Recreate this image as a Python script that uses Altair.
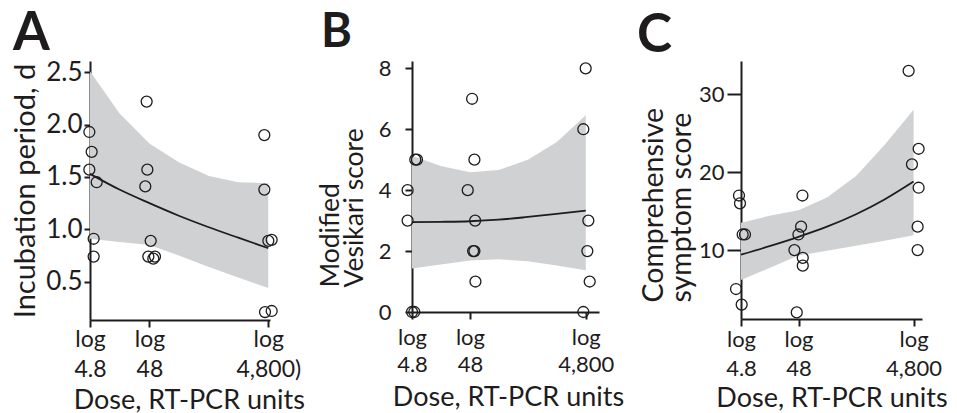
import altair as alt
import pandas as pd

FONT = "Lato"
INK = "#1e1c1d"
BAND = "#d0d1d3"

# ---- shared ----
curve_dose = [4.8, 15, 48, 150, 480, 1500, 4800]
x_ticks = [4.8, 48, 4800]
x_title = "Dose, RT-PCR units"

# ---- Panel A : incubation period ----
a_dose = [4.68, 5.12, 4.68, 6.22, 5.53, 5.53,
          43.1, 44.3, 40.9, 50.4, 46.0, 55.8, 59.5,
          4118, 4118, 4808, 5470, 4225, 5470]
a_val = [1.93, 1.74, 1.57, 1.45, 0.91, 0.74,
         2.22, 1.57, 1.41, 0.89, 0.74, 0.72, 0.74,
         1.90, 1.38, 0.89, 0.90, 0.21, 0.22]
a_fit = [1.53, 1.38, 1.25, 1.13, 1.02, 0.92, 0.82]
a_lo = [0.91, 0.88, 0.85, 0.75, 0.64, 0.54, 0.44]
a_hi = [2.51, 2.11, 1.82, 1.64, 1.51, 1.45, 1.44]
a_yticks = [0.5, 1.0, 1.5, 2.0, 2.5]
a_xlabels = ["4.8", "48", "4,800)"]

# ---- Panel B : modified Vesikari score ----
b_dose = [5.47, 5.85, 4.03, 4.03, 4.8, 5.26,
          52.3, 57.4, 44.0, 59.0, 54.5, 57.4, 59.8,
          4782, 4357, 5318, 5110, 5608, 4357]
b_val = [5, 5, 4, 3, 0, 0,
         7, 5, 4, 3, 2, 2, 1,
         8, 6, 3, 2, 1, 0]
b_fit = [2.95, 2.96, 2.98, 3.03, 3.12, 3.22, 3.33]
b_lo = [1.43, 1.56, 1.69, 1.73, 1.67, 1.53, 1.37]
b_hi = [5.13, 4.79, 4.59, 4.66, 5.00, 5.57, 6.46]
b_yticks = [0, 2, 4, 6, 8]
b_xlabels = ["4.8", "48", "4,800"]

# ---- Panel C : comprehensive symptom score ----
c_dose = [4.43, 4.61, 5.13, 5.63, 3.93, 4.93,
          56.1, 53.2, 47.8, 40.7, 56.9, 56.9, 44.7,
          3934, 5873, 4497, 5873, 5642, 5642]
c_val = [17, 16, 12, 12, 5, 3,
         17, 13, 12, 10, 9, 8, 2,
         33, 23, 21, 18, 13, 10]
c_fit = [9.4, 10.5, 11.7, 13.0, 14.6, 16.5, 18.8]
c_lo = [6.15, 7.7, 9.3, 9.9, 10.55, 11.2, 11.9]
c_hi = [13.5, 14.4, 15.1, 16.75, 19.5, 23.5, 28.0]
c_yticks = [10, 20, 30]
c_xlabels = ["4.8", "48", "4,800"]


def panel(letter, dose, val, fit, lo, hi, yticks, yfmt, ytitle, xlabels,
          width, height, xmax, ydom, spec):
    pts = pd.DataFrame({"dose": dose, "val": val})
    crv = pd.DataFrame({"dose": curve_dose, "fit": fit, "lo": lo, "hi": hi})
    lab = pd.DataFrame({"letter": [letter]})

    label_expr = (
        f"datum.value < 10 ? ['log', '{xlabels[0]}'] : "
        f"datum.value < 100 ? ['log', '{xlabels[1]}'] : ['log', '{xlabels[2]}']"
    )
    xaxis = alt.Axis(
        values=x_ticks, labelExpr=label_expr, grid=False,
        tickSize=7, tickWidth=2, domainWidth=2, tickColor=INK, domainColor=INK,
        labelFont=FONT, labelFontSize=spec["xlab_fs"], labelColor=INK,
        labelLineHeight=spec["xlab_lh"], labelPadding=spec["xlab_pad"],
        labelFlush=False, labelOverlap=False, labelBaseline="top",
        title=x_title, titleFont=FONT, titleFontSize=27,
        titleFontWeight="normal", titleColor=INK,
        titleX=spec["xtitle_x"], titleY=spec["xtitle_y"],
        titleAlign="center", titleBaseline="alphabetic",
    )
    yaxis = alt.Axis(
        values=yticks, format=yfmt, grid=False,
        tickSize=spec["ytick"], tickWidth=2, domainWidth=2,
        tickColor=INK, domainColor=INK,
        labelFont=FONT, labelFontSize=spec["ylab_fs"], labelColor=INK,
        labelPadding=spec["ylab_pad"], labelFlush=False, labelOverlap=False,
        title=ytitle, titleFont=FONT, titleFontSize=spec["ytitle_fs"],
        titleFontWeight="normal", titleColor=INK, titleAngle=270,
        titleX=spec["ytitle_x"], titleY=spec["ytitle_y"],
        titleAlign=spec["ytitle_align"], titleBaseline="alphabetic",
        titleLineHeight=spec["ytitle_lh"],
    )
    xs = alt.Scale(type="log", domain=[4.8, xmax], nice=False)
    ys = alt.Scale(domain=ydom, nice=False, zero=False)

    band = alt.Chart(crv).mark_area(color=BAND, opacity=1).encode(
        x=alt.X("dose:Q", scale=xs, axis=xaxis),
        y=alt.Y("lo:Q", scale=ys, axis=yaxis),
        y2="hi:Q",
    )
    line = alt.Chart(crv).mark_line(color=INK, strokeWidth=1.8, interpolate="monotone").encode(
        x=alt.X("dose:Q", scale=xs, axis=xaxis),
        y=alt.Y("fit:Q", scale=ys, axis=yaxis),
    )
    dots = alt.Chart(pts).mark_point(
        shape="circle", filled=False, size=120, stroke=INK, strokeWidth=1.3, opacity=1
    ).encode(
        x=alt.X("dose:Q", scale=xs, axis=xaxis),
        y=alt.Y("val:Q", scale=ys, axis=yaxis),
    )
    letter_mark = alt.Chart(lab).mark_text(
        font=FONT, fontSize=spec["letter_fs"], fontWeight="bold", color=INK,
        align="left", baseline="alphabetic",
    ).encode(
        text="letter:N",
        x=alt.value(spec["letter_dx"]),
        y=alt.value(spec["letter_dy"]),
    )
    return alt.layer(band, line, dots, letter_mark).properties(width=width, height=height)


chart_a = panel(
    "A", a_dose, a_val, a_fit, a_lo, a_hi, a_yticks, ".1f",
    "Incubation period, d", a_xlabels, 180, 259, 5129, [0.134, 2.608],
    dict(xlab_fs=23, xlab_pad=1.5, xlab_lh=30,
         xtitle_x=98.8, xtitle_y=88, ytick=6, ylab_fs=26, ylab_pad=2,
         ytitle_fs=29, ytitle_x=-56, ytitle_y=129.5, ytitle_align="center", ytitle_lh=24,
         letter_fs=53, letter_dx=-77, letter_dy=-11),
)
chart_b = panel(
    "B", b_dose, b_val, b_fit, b_lo, b_hi, b_yticks, "d",
    ["Modified", "Vesikari score"], b_xlabels, 187, 251, 8122, [0, 8.24],
    dict(xlab_fs=22, xlab_pad=8.6, xlab_lh=27,
         xtitle_x=96, xtitle_y=93, ytick=7, ylab_fs=22, ylab_pad=14,
         ytitle_fs=26.5, ytitle_x=-74, ytitle_y=226, ytitle_align="left", ytitle_lh=24,
         letter_fs=47, letter_dx=-91, letter_dy=-14),
)
chart_c = panel(
    "C", c_dose, c_val, c_fit, c_lo, c_hi, c_yticks, "d",
    ["Comprehensive", "symptom score"], c_xlabels, 181, 258, 6723, [1.15, 34.27],
    dict(xlab_fs=22, xlab_pad=3.3, xlab_lh=29,
         xtitle_x=90.5, xtitle_y=87, ytick=14, ylab_fs=22, ylab_pad=3,
         ytitle_fs=28.5, ytitle_x=-79, ytitle_y=241, ytitle_align="left", ytitle_lh=28,
         letter_fs=53, letter_dx=-104, letter_dy=-9),
)

chart = alt.hconcat(chart_a, chart_b, chart_c, spacing=142, bounds="flush").properties(
    padding={"left": 2, "top": 0, "right": 0, "bottom": 0},
    background="white",
).configure_view(strokeWidth=0)

chart.save("out.html", embed_options={"renderer": "svg", "actions": False})
